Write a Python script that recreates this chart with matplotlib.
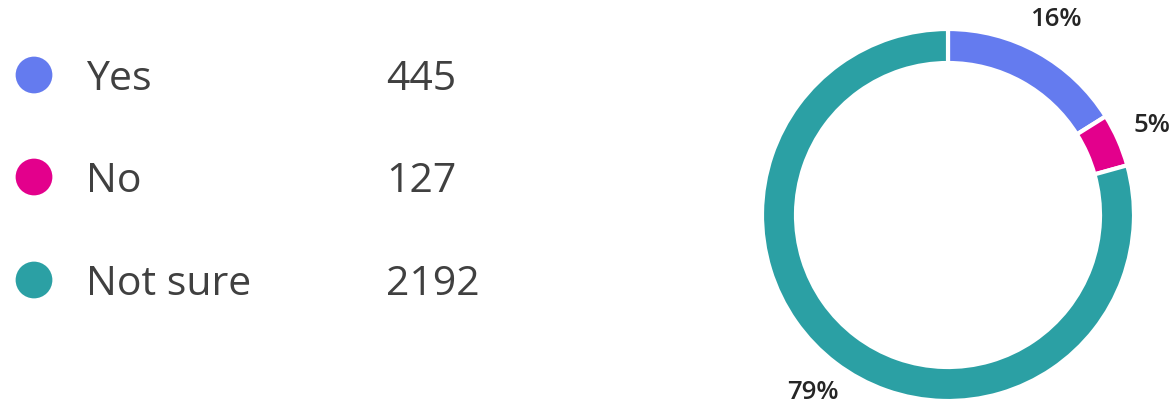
import matplotlib
matplotlib.use("Agg")
import matplotlib.pyplot as plt

categories = ["Yes", "No", "Not sure"]
counts = [445, 127, 2192]
colors = ["#647BEF", "#E3008C", "#2BA0A4"]

W, H = 1171, 404
fig = plt.figure(figsize=(W / 100, H / 100), dpi=100)
ax = fig.add_axes([0, 0, 1, 1])

# donut
wedges, texts, autotexts = ax.pie(
    counts, colors=colors, startangle=90, counterclock=False,
    center=(948, H - 215), radius=186, frame=True,
    wedgeprops=dict(width=34, edgecolor="white", linewidth=3),
    autopct="%1.0f%%", pctdistance=1.2,
    textprops=dict(fontsize=18.5, color="#252525", family="Open Sans", fontweight="semibold"),
)
ax.set_xlim(0, W)
ax.set_ylim(0, H)
ax.set_aspect("equal")
ax.axis("off")

# legend
row_y = [H - 75, H - 177, H - 280]
for i, (cat, cnt, col) in enumerate(zip(categories, counts, colors)):
    ax.scatter([34], [row_y[i]], s=700, color=col, edgecolors="none")
    ax.text(86, row_y[i], cat, fontsize=29.5, color="#404040", family="Open Sans",
            va="center_baseline", ha="left")
    ax.text(386, row_y[i], str(cnt), fontsize=29.5, color="#404040", family="Open Sans",
            va="center_baseline", ha="left")

fig.savefig("out.png", dpi=100)
